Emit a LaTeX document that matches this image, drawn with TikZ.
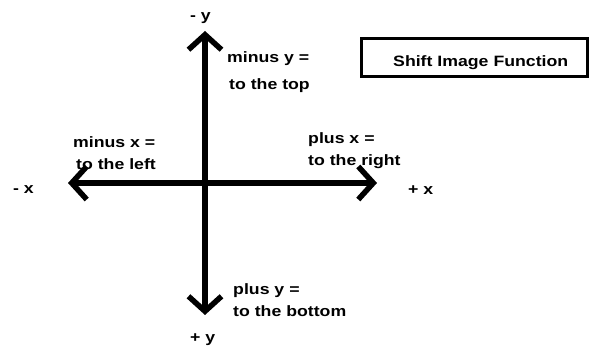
\documentclass[tikz,border=0pt]{standalone}
\usepackage{fontspec}
\setmainfont{Liberation Sans}[FakeStretch=1.18]
\usetikzlibrary{arrows.meta}
\tikzset{
  axis/.style={line width=5.5pt, {Straight Barb[sharp,length=15pt,width=33pt]}-{Straight Barb[sharp,length=15pt,width=33pt]}},
  lbl/.style={anchor=base west, inner sep=0pt, font=\fontsize{15}{18}\selectfont\bfseries},
  titlebox/.style={draw, line width=3pt}
}
\begin{document}
\begin{tikzpicture}[x=1pt,y=-1pt]
\useasboundingbox (0,0) rectangle (598,347);
% axis end points
\coordinate (ytop) at (205,31);
\coordinate (ybot) at (205,315);
\coordinate (xleft) at (68,183);
\coordinate (xright) at (377,183);
\draw[axis] (ytop) -- (ybot);
\draw[axis] (xleft) -- (xright);
% title box
\draw[titlebox] (361,39) rectangle (587,77);
\node[lbl] (title) at (393,67) {Shift Image Function};
% labels
\node[lbl] (my) at (190,21) {- y};
\node[lbl] (my1) at (227,63) {minus y =};
\node[lbl] (my2) at (229,90) {to the top};
\node[lbl] (mx1) at (73,148) {minus x =};
\node[lbl] (mx2) at (76,170) {to the left};
\node[lbl] (mx) at (13,194) {- x};
\node[lbl] (px1) at (308,144) {plus x =};
\node[lbl] (px2) at (308,166) {to the right};
\node[lbl] (px) at (408,195) {+ x};
\node[lbl] (py1) at (233,295) {plus y =};
\node[lbl] (py2) at (233,317) {to the bottom};
\node[lbl] (py) at (190,343) {+ y};
\end{tikzpicture}
\end{document}
